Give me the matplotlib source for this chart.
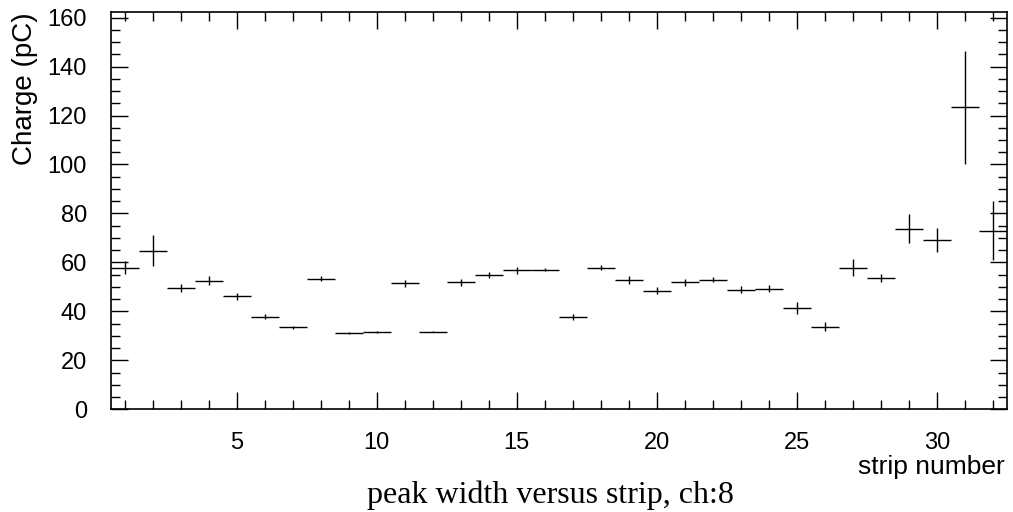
import numpy as np
import matplotlib.pyplot as plt
from matplotlib.ticker import MultipleLocator

# Data
strips = np.arange(1, 33)
charge = [57.9, 64.8, 49.6, 52.6, 46.2, 37.9, 33.6, 53.4, 31.2, 31.6,
          51.4, 31.6, 51.8, 54.9, 56.7, 57.1, 37.7, 57.9, 52.9, 48.5,
          51.9, 52.9, 48.9, 49.3, 41.4, 33.8, 57.9, 53.5, 73.8, 69.3,
          123.3, 73.0]
charge_err = [2.6, 6.4, 1.5, 2.0, 1.4, 1.1, 0.6, 1.0, 0.3, 0.3,
              1.4, 0.2, 1.5, 1.3, 1.3, 0.8, 1.3, 1.1, 1.7, 1.5,
              1.4, 1.1, 1.5, 1.4, 2.5, 1.8, 3.4, 1.6, 5.9, 4.9,
              23.0, 12.1]
strip_halfwidth = 0.5

plt.rcParams['font.family'] = 'Liberation Sans'

fig = plt.figure(figsize=(10.13, 5.12), dpi=100)
ax = fig.add_axes([0.1093, 0.2006, 0.8845, 0.776])

ax.errorbar(strips, charge, xerr=strip_halfwidth, yerr=charge_err, fmt='none',
            ecolor='black', elinewidth=1.0, capsize=0)

ax.set_xlim(0.5, 32.5)
ax.set_ylim(0, 162.3)

ax.xaxis.set_major_locator(MultipleLocator(5))
ax.xaxis.set_minor_locator(MultipleLocator(1))
ax.yaxis.set_major_locator(MultipleLocator(20))
ax.yaxis.set_minor_locator(MultipleLocator(5))
ax.tick_params(which='both', direction='in', top=True, right=True, width=1.0)
ax.tick_params(which='major', length=12)
ax.tick_params(which='minor', length=6.5)
ax.tick_params(axis='y', which='major', labelsize=17, pad=17)
ax.tick_params(axis='x', which='major', labelsize=17, pad=16)
for s in ax.spines.values():
    s.set_linewidth(1.2)

ax.set_ylabel('Charge (pC)', fontsize=20, loc='top', labelpad=7)
fig.text(0.992, 1 - 467 / 512, 'strip number', fontsize=19,
         ha='right', va='center')
fig.text(0.543, 1 - 495 / 512, 'peak width versus strip, ch:8', fontsize=23,
         family='Liberation Serif', ha='center', va='center')

fig.savefig('out.png', dpi=100)
